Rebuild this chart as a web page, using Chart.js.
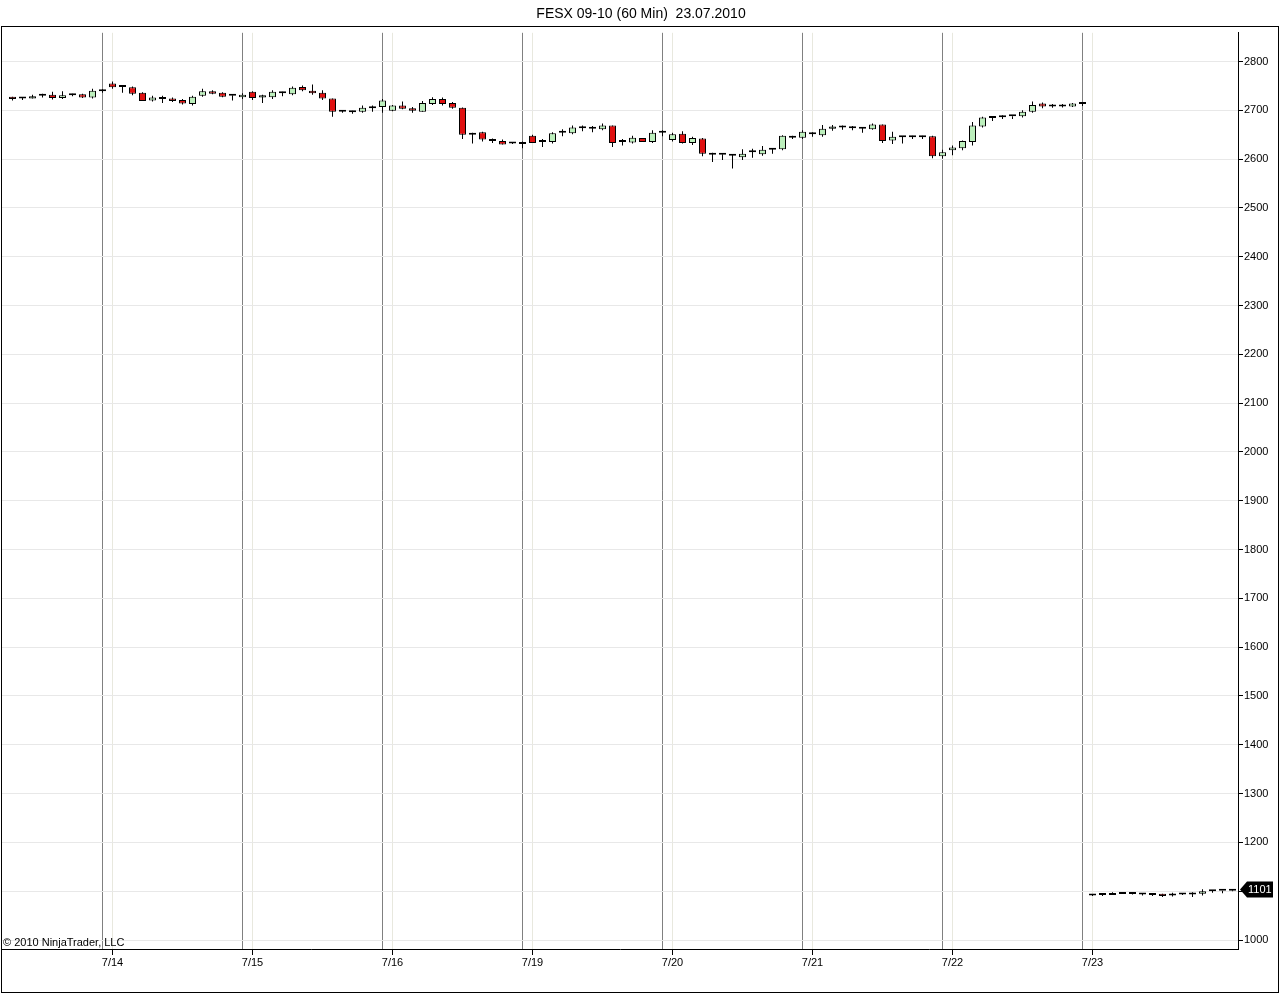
<!DOCTYPE html>
<html>
<head>
<meta charset="utf-8">
<script src="https://cdn.jsdelivr.net/npm/chart.js@4/dist/chart.umd.min.js"></script>
<style>
html,body{margin:0;padding:0;background:#fff;}
canvas{display:block;}
</style>
</head>
<body>
<canvas id="c" width="1280" height="995"></canvas>
<script>
const titleText = 'FESX 09-10 (60 Min)  23.07.2010';
const copyrightText = '\u00A9 2010 NinjaTrader, LLC';

// trading days and number of 60-min bars shown for each
const days = ['7/13','7/14','7/15','7/16','7/19','7/20','7/21','7/22','7/23'];
const barsPerDay = [10,14,14,14,14,14,14,14,15];

const opens = [
 2728,2725,2724,2730,2732,2725,2731,2733,2726,2739,
 2755,2748,2747,2736,2720,2723,2724,2721,2713,2730,2739,2736,2730,2727,
 2738,2726,2727,2735,2733,2748,2740,2736,2724,2697,2696,2697,2704,2707,
 2699,2710,2704,2697,2713,2723,2715,2705,2650,2655,2637,2637,2632,2631,
 2648,2635,2635,2654,2653,2663,2662,2661,2669,2635,2634,2643,2635,2654,
 2639,2652,2633,2642,2613,2610,2607,2604,2614,2610,2619,2620,2648,2644,
 2651,2649,2662,2665,2667,2662,2661,2671,2638,2645,2645,2645,2647,2606,
 2618,2622,2635,2667,2684,2686,2688,2688,2697,2714,2708,2712,2708,2713,
 1092,1092,1092,1095,1094,1093,1092,1095,1091,1093,1093,1095,1100,1101,1101
];
const highs = [
 2728,2726,2732,2734,2738,2739,2734,2734,2744,2743,
 2759,2751,2749,2737,2730,2730,2726,2723,2730,2744,2741,2737,2731,2735,
 2739,2732,2741,2738,2749,2751,2753,2741,2724,2700,2699,2710,2710,2723,
 2711,2718,2707,2719,2727,2726,2717,2706,2654,2656,2642,2640,2634,2636,
 2650,2641,2655,2661,2669,2669,2668,2673,2669,2641,2648,2643,2659,2659,
 2654,2657,2646,2643,2613,2610,2609,2620,2621,2627,2622,2649,2648,2659,
 2655,2670,2670,2669,2668,2664,2673,2671,2656,2646,2648,2648,2648,2619,
 2628,2638,2676,2687,2688,2690,2688,2700,2718,2716,2713,2713,2715,2717,
 1092,1094,1098,1095,1094,1095,1095,1095,1097,1095,1098,1104,1102,1101,1102
];
const lows = [
 2720,2721,2724,2726,2722,2723,2729,2725,2724,2736,
 2744,2736,2731,2719,2718,2715,2717,2712,2710,2728,2733,2727,2720,2723,
 2721,2715,2723,2729,2731,2739,2732,2721,2687,2695,2693,2695,2697,2695,
 2698,2702,2695,2697,2711,2710,2703,2641,2632,2636,2633,2630,2631,2622,
 2633,2625,2632,2647,2651,2657,2655,2659,2625,2628,2632,2635,2633,2647,
 2636,2632,2629,2606,2594,2598,2581,2598,2603,2607,2611,2618,2641,2641,
 2646,2646,2658,2660,2659,2654,2660,2633,2631,2632,2641,2641,2602,2601,
 2608,2618,2628,2665,2678,2682,2682,2685,2695,2704,2705,2706,2707,2709,
 1090,1090,1092,1094,1093,1091,1090,1088,1089,1092,1088,1091,1097,1096,1100
];
const closes = [
 2723,2724,2729,2730,2725,2731,2731,2726,2740,2739,
 2747,2748,2734,2719,2726,2723,2719,2714,2728,2739,2734,2728,2730,2732,
 2725,2731,2738,2735,2746,2741,2735,2724,2697,2697,2696,2705,2704,2720,
 2710,2703,2699,2715,2723,2713,2705,2650,2654,2640,2637,2630,2632,2631,
 2633,2635,2653,2654,2665,2663,2662,2669,2633,2635,2644,2635,2654,2654,
 2651,2633,2643,2611,2609,2609,2607,2611,2614,2619,2619,2648,2644,2656,
 2651,2662,2667,2665,2663,2662,2671,2637,2646,2645,2645,2645,2606,2614,
 2624,2637,2669,2685,2684,2686,2688,2697,2711,2708,2712,2708,2714,2713,
 1091,1092,1096,1094,1094,1093,1092,1090,1095,1093,1093,1100,1100,1101,1101
];

const FONT = "'Liberation Sans', Arial, sans-serif";
const UP = '#bcefbc';
const DOWN = '#e01010';

const idx = opens.map((_, i) => i);
const dayStart = [];
const sessionEnd = [];
let acc = 0;
barsPerDay.forEach(n => { dayStart.push(acc); acc += n; sessionEnd.push(acc - 1); });
const labelTicks = dayStart.map((s, d) => ({ value: s, label: days[d] })).filter(t => t.value > 0);
const endValues = sessionEnd.slice(0, -1);
const isEnd = v => endValues.includes(v);

const framePlugin = {
  id: 'frame',
  beforeDraw(chart) {
    const c = chart.ctx;
    c.save();
    c.fillStyle = '#fff';
    c.fillRect(0, 0, chart.width, chart.height);
    c.restore();
  },
  afterDraw(chart) {
    const c = chart.ctx;
    const a = chart.chartArea;
    c.save();
    c.strokeStyle = '#000';
    c.lineWidth = 1;
    c.strokeRect(1.5, 26.5, chart.width - 3, chart.height - 29);
    // copyright
    c.fillStyle = '#000';
    c.font = '11px ' + FONT;
    c.textAlign = 'left';
    c.textBaseline = 'alphabetic';
    c.fillText(copyrightText, a.left + 1, a.bottom - 3);
    // last price marker
    const last = closes[closes.length - 1];
    const y = Math.round(chart.scales.y.getPixelForValue(last)) - 1.5;
    const x0 = a.right + 2;
    c.beginPath();
    c.moveTo(x0, y);
    c.lineTo(x0 + 7, y - 8);
    c.lineTo(x0 + 33, y - 8);
    c.lineTo(x0 + 33, y + 8);
    c.lineTo(x0 + 7, y + 8);
    c.closePath();
    c.fillStyle = '#000';
    c.fill();
    c.fillStyle = '#fff';
    c.textBaseline = 'middle';
    c.fillText(String(last), x0 + 8, y + 0.5);
    c.restore();
  }
};

new Chart(document.getElementById('c'), {
  type: 'bar',
  data: {
    datasets: [
      {
        label: 'body',
        data: idx.map(i => ({ x: i, y: [opens[i], closes[i]] })),
        backgroundColor: idx.map(i => closes[i] < opens[i] ? DOWN : UP),
        borderColor: '#000',
        borderWidth: 1,
        borderSkipped: false,
        barThickness: 7,
        minBarLength: 2,
        inflateAmount: 0,
        grouped: false,
        order: 0
      },
      {
        label: 'wick',
        data: idx.map(i => ({ x: i, y: [lows[i], highs[i]] })),
        backgroundColor: '#000',
        borderWidth: 0,
        barThickness: 1,
        minBarLength: 1,
        inflateAmount: 0,
        grouped: false,
        order: 1
      }
    ]
  },
  options: {
    responsive: false,
    animation: false,
    devicePixelRatio: 1,
    layout: { padding: { left: 2, right: 0, top: 0, bottom: 0 } },
    plugins: {
      legend: { display: false },
      tooltip: { enabled: false },
      title: {
        display: true,
        text: titleText,
        color: '#000',
        font: { family: FONT, size: 14, weight: 'normal', lineHeight: 1.2 },
        padding: { top: 6, bottom: 10 }
      }
    },
    scales: {
      x: {
        type: 'linear',
        min: -1.05,
        max: 122.55,
        offset: false,
        afterBuildTicks: ax => {
          const vals = endValues.concat(labelTicks.map(t => t.value)).sort((a, b) => a - b);
          ax.ticks = vals.map(v => ({ value: v }));
        },
        afterFit: ax => { ax.height = 46; },
        ticks: {
          autoSkip: false,
          maxRotation: 0,
          minRotation: 0,
          color: '#000',
          padding: 1,
          font: { family: FONT, size: 11 },
          callback: v => {
            const t = labelTicks.find(t => t.value === v);
            return t ? t.label : '';
          }
        },
        grid: {
          offset: false,
          color: ctx => (ctx.tick && isEnd(ctx.tick.value)) ? '#808080' : '#e8e8de',
          tickColor: ctx => (ctx.tick && isEnd(ctx.tick.value)) ? 'rgba(0,0,0,0)' : '#000',
          tickLength: 6,
          lineWidth: 1
        },
        border: { display: true, color: '#000', width: 1 }
      },
      y: {
        position: 'right',
        min: 981.56,
        max: 2858.8,
        afterFit: ax => { ax.width = 42; },
        ticks: {
          stepSize: 100,
          includeBounds: false,
          color: '#000',
          padding: 1,
          font: { family: FONT, size: 11 },
          callback: v => String(v)
        },
        grid: { color: '#e8e8e8', tickColor: '#000', tickLength: 5, lineWidth: 1 },
        border: { display: true, color: '#000', width: 1 }
      }
    }
  },
  plugins: [framePlugin]
});
</script>
</body>
</html>
